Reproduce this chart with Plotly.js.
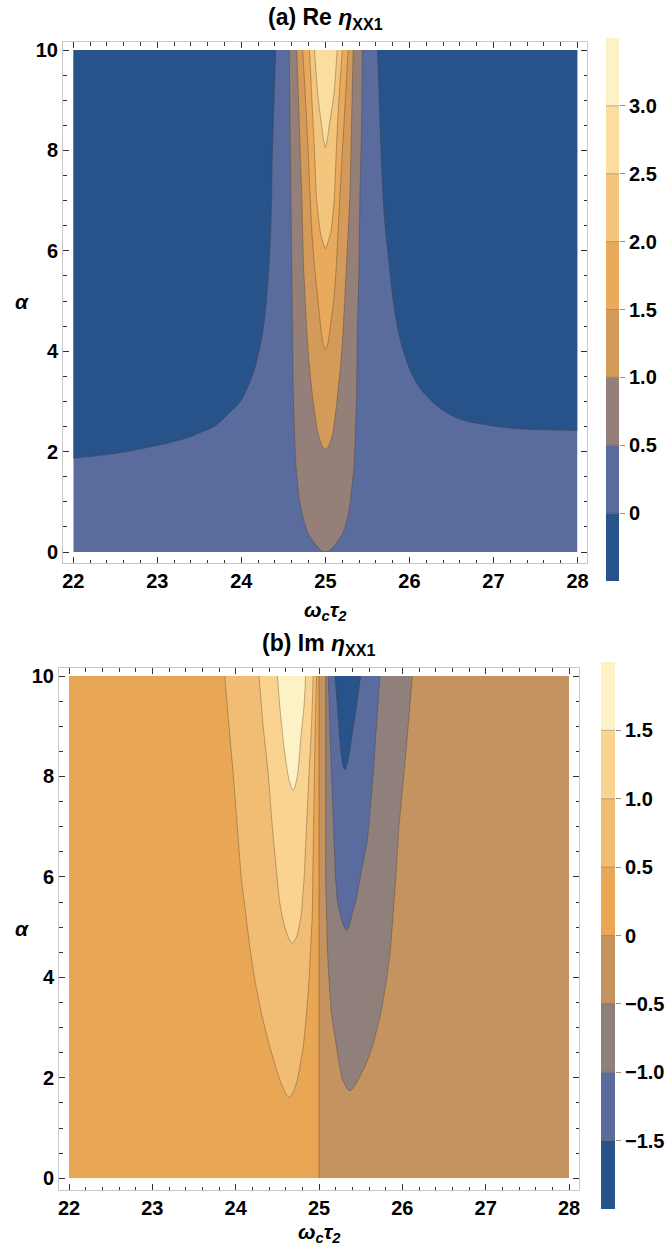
<!DOCTYPE html>
<html>
<head>
<meta charset="utf-8">
<script src="https://cdn.plot.ly/plotly-3.0.1.min.js"></script>
<style>
  html, body { margin: 0; padding: 0; background: #fff; }
  #plot { width: 670px; height: 1245px; }
</style>
</head>
<body>
<div id="plot"></div>
<script>
// ---------- shared domain ----------
const xSpan = [22, 28];
const alphaSpan = [0, 10];

// ---------- (a) Re eta_XX1 : contour boundaries ----------
// level 0: left and right branches (x, alpha)
const reZeroLeftX  = [22.0, 22.5, 22.91, 23.31, 23.5, 23.7, 23.86, 23.98, 24.1, 24.18, 24.26, 24.3, 24.34, 24.36, 24.37, 24.39, 24.41];
const reZeroLeftA  = [1.87, 1.96, 2.09, 2.25, 2.37, 2.53, 2.78, 2.98, 3.38, 3.78, 4.44, 5.04, 6.04, 7.03, 8.03, 9.0, 10.0];
const reZeroRightX = [25.62, 25.64, 25.66, 25.7, 25.76, 25.82, 25.92, 26.08, 26.28, 26.55, 26.95, 27.34, 27.7, 28.0];
const reZeroRightA = [10.0, 9.0, 8.03, 6.7, 5.7, 4.84, 4.04, 3.38, 2.98, 2.68, 2.52, 2.45, 2.43, 2.42];

// U-shaped levels: alpha rows (from the tip up) with left / right x
const reHalfA = [0.0, 0.03, 0.1, 0.2, 0.39, 0.72, 1.06, 1.72, 3.05, 4.38, 5.7, 7.03, 8.5, 10.0];
const reHalfL = [25.0, 24.95, 24.91, 24.86, 24.79, 24.73, 24.69, 24.65, 24.62, 24.61, 24.6, 24.59, 24.58, 24.57];
const reHalfR = [25.0, 25.05, 25.09, 25.14, 25.21, 25.27, 25.3, 25.34, 25.37, 25.38, 25.4, 25.41, 25.43, 25.44];

const reOneA = [2.04, 2.1, 2.2, 2.38, 3.05, 3.71, 4.38, 5.04, 5.7, 7.03, 8.5, 10.0];
const reOneL = [25.0, 24.965, 24.94, 24.91, 24.85, 24.81, 24.78, 24.76, 24.74, 24.72, 24.69, 24.66];
const reOneR = [25.0, 25.035, 25.06, 25.09, 25.14, 25.18, 25.21, 25.23, 25.25, 25.29, 25.31, 25.33];

const reOneHalfA = [4.03, 4.1, 4.2, 4.38, 5.04, 5.7, 6.37, 7.03, 8.5, 10.0];
const reOneHalfL = [25.0, 24.98, 24.965, 24.95, 24.91, 24.87, 24.84, 24.82, 24.78, 24.73];
const reOneHalfR = [25.0, 25.02, 25.035, 25.05, 25.1, 25.13, 25.15, 25.17, 25.22, 25.27];

const reTwoA = [6.04, 6.1, 6.2, 6.37, 7.03, 8.0, 9.0, 10.0];
const reTwoL = [25.0, 24.985, 24.965, 24.94, 24.895, 24.87, 24.84, 24.81];
const reTwoR = [25.0, 25.015, 25.035, 25.065, 25.105, 25.13, 25.16, 25.2];

const reTwoHalfA = [8.06, 8.15, 8.3, 8.43, 9.09, 10.0];
const reTwoHalfL = [25.0, 24.985, 24.97, 24.96, 24.91, 24.87];
const reTwoHalfR = [25.0, 25.015, 25.03, 25.04, 25.1, 25.14];

const reBandEdges  = [-0.5, 0, 0.5, 1.0, 1.5, 2.0, 2.5, 3.0, 3.5];
const reBandColors = ['#27538a', '#5a6b9e', '#948079', '#d39a59', '#e9aa5b', '#f3c57d', '#fbdd9f', '#fdf1c6'];
const reTicks    = [0, 0.5, 1.0, 1.5, 2.0, 2.5, 3.0];
const reTickText = ['0', '0.5', '1.0', '1.5', '2.0', '2.5', '3.0'];

// ---------- (b) Im eta_XX1 : contour boundaries ----------
const imSplitX = 25;          // sign change of Im across the resonance
const imZeroA  = [0, 10];

const imHalfA = [1.61, 1.7, 1.8, 1.96, 2.62, 3.28, 3.95, 4.61, 5.28, 5.94, 7.0, 8.06, 9.0, 10.0];
const imHalfL = [24.64, 24.595, 24.57, 24.53, 24.41, 24.31, 24.23, 24.17, 24.12, 24.07, 24.02, 23.97, 23.92, 23.87];
const imHalfR = [24.64, 24.685, 24.71, 24.74, 24.81, 24.85, 24.88, 24.9, 24.92, 24.925, 24.935, 24.945, 24.955, 24.97];

const imOneA = [4.68, 4.75, 4.85, 5.0, 5.28, 5.54, 5.94, 7.0, 8.06, 9.0, 10.0];
const imOneL = [24.68, 24.645, 24.62, 24.59, 24.55, 24.525, 24.5, 24.44, 24.39, 24.33, 24.28];
const imOneR = [24.68, 24.715, 24.74, 24.76, 24.79, 24.8, 24.82, 24.85, 24.88, 24.91, 24.93];

const imOneHalfA = [7.72, 7.8, 7.9, 8.06, 8.4, 8.73, 9.39, 10.0];
const imOneHalfL = [24.69, 24.665, 24.645, 24.625, 24.595, 24.57, 24.53, 24.5];
const imOneHalfR = [24.69, 24.712, 24.727, 24.745, 24.765, 24.78, 24.82, 24.84];

const imNegHalfA = [1.74, 1.8, 1.9, 1.96, 2.3, 2.62, 3.28, 3.95, 4.61, 5.28, 5.94, 7.0, 8.06, 9.0, 10.0];
const imNegHalfL = [25.37, 25.33, 25.3, 25.28, 25.24, 25.21, 25.15, 25.12, 25.1, 25.09, 25.08, 25.08, 25.08, 25.08, 25.08];
const imNegHalfR = [25.37, 25.41, 25.45, 25.47, 25.57, 25.64, 25.74, 25.81, 25.86, 25.89, 25.92, 25.96, 26.02, 26.07, 26.12];

const imNegOneA = [4.94, 5.0, 5.1, 5.28, 5.54, 5.94, 6.74, 8.06, 9.0, 10.0];
const imNegOneL = [25.33, 25.305, 25.28, 25.25, 25.22, 25.2, 25.18, 25.15, 25.13, 25.11];
const imNegOneR = [25.33, 25.355, 25.375, 25.4, 25.445, 25.49, 25.58, 25.65, 25.69, 25.73];

const imNegOneHalfA = [8.13, 8.2, 8.3, 8.5, 8.73, 9.39, 10.0];
const imNegOneHalfL = [25.31, 25.29, 25.277, 25.262, 25.25, 25.22, 25.19];
const imNegOneHalfR = [25.31, 25.33, 25.347, 25.368, 25.39, 25.45, 25.5];

const imBandEdges  = [-2.0, -1.5, -1.0, -0.5, 0, 0.5, 1.0, 1.5, 2.0];
const imBandColors = ['#27538a', '#5a6b9e', '#8f807c', '#c4935f', '#e9a654', '#f1bd74', '#f9d38f', '#fdf1c6'];
const imTicks    = [-1.5, -1.0, -0.5, 0, 0.5, 1.0, 1.5];
const imTickText = ['\u22121.5', '\u22121.0', '\u22120.5', '0', '0.5', '1.0', '1.5'];

// ---------- helpers ----------
const FONT = '"Liberation Sans Narrow", "Liberation Sans", Arial, sans-serif';
const EDGE = 'rgba(70,55,45,0.45)';
const SMOOTH_U = 0.55;   // closed U-shaped bands
const SMOOTH_OPEN = 1.0; // open level-0 branches
const W = 670, H = 1245;
const domX = (a, b) => [a / W, b / W];
const domY = (top, bottom) => [1 - bottom / H, 1 - top / H];

function uPath(alpha, left, right) {
  return {
    x: left.slice().reverse().concat(right.slice(1)),
    y: alpha.slice().reverse().concat(alpha.slice(1))
  };
}
function rectPath(x0, x1, a0, a1) {
  return { x: [x0, x1, x1, x0], y: [a0, a0, a1, a1] };
}
function region(path, color, xa, ya, outlined) {
  return {
    type: 'scatter', mode: outlined ? 'lines' : 'none',
    x: path.x, y: path.y, fill: 'toself', fillcolor: color,
    line: { color: EDGE, width: 0.8, shape: outlined ? 'spline' : 'linear', smoothing: SMOOTH_U },
    xaxis: xa, yaxis: ya, hoverinfo: 'skip', showlegend: false
  };
}
function curve(x, y, xa, ya, smooth) {
  return {
    type: 'scatter', mode: 'lines', x: x, y: y,
    line: { color: EDGE, width: 0.8, shape: smooth ? 'spline' : 'linear', smoothing: SMOOTH_OPEN },
    xaxis: xa, yaxis: ya, hoverinfo: 'skip', showlegend: false
  };
}
// fills the area between the previous (curved) trace and a straight path along the frame
function cornerFill(x, y, color, xa, ya) {
  return {
    type: 'scatter', mode: 'lines', x: x, y: y, fill: 'tonexty', fillcolor: color,
    line: { width: 0 }, xaxis: xa, yaxis: ya, hoverinfo: 'skip', showlegend: false
  };
}
// empty trace that makes the framed (tick-bearing) subplot exist
function frameHolder(xa, ya) {
  return { type: 'scatter', mode: 'none', x: [], y: [], xaxis: xa, yaxis: ya, hoverinfo: 'skip', showlegend: false };
}
function legendBar(edges, colors, xa, ya) {
  const lows = edges.slice(0, -1);
  const heights = lows.map((v, i) => edges[i + 1] - v);
  return {
    type: 'bar', x: lows.map(() => 0), base: lows, y: heights, width: 1,
    marker: { color: colors, line: { width: 0 } },
    xaxis: xa, yaxis: ya, hoverinfo: 'skip', showlegend: false
  };
}
function legendLines(edges, xa, ya) {
  const x = [], y = [];
  edges.slice(1, -1).forEach(v => { x.push(-0.5, 0.5, null); y.push(v, v, null); });
  return curve(x, y, xa, ya, false);
}

// ---------- traces ----------
const traces = [frameHolder('x', 'y'), frameHolder('x2', 'y2')];
const nL = reZeroLeftX.length - 1, nR = reZeroRightX.length - 1;

// (a) Re  -- drawn on the clipped data axes x5/y5
traces.push(region(rectPath(xSpan[0], xSpan[1], alphaSpan[0], alphaSpan[1]), reBandColors[1], 'x5', 'y5', false));
traces.push(curve(reZeroLeftX, reZeroLeftA, 'x5', 'y5', true));
traces.push(cornerFill([reZeroLeftX[0], xSpan[0], reZeroLeftX[nL]],
                       [reZeroLeftA[0], alphaSpan[1], reZeroLeftA[nL]], reBandColors[0], 'x5', 'y5'));
traces.push(curve(reZeroRightX, reZeroRightA, 'x5', 'y5', true));
traces.push(cornerFill([reZeroRightX[0], xSpan[1], reZeroRightX[nR]],
                       [reZeroRightA[0], alphaSpan[1], reZeroRightA[nR]], reBandColors[0], 'x5', 'y5'));
traces.push(region(uPath(reHalfA, reHalfL, reHalfR), reBandColors[2], 'x5', 'y5', true));
traces.push(region(uPath(reOneA, reOneL, reOneR), reBandColors[3], 'x5', 'y5', true));
traces.push(region(uPath(reOneHalfA, reOneHalfL, reOneHalfR), reBandColors[4], 'x5', 'y5', true));
traces.push(region(uPath(reTwoA, reTwoL, reTwoR), reBandColors[5], 'x5', 'y5', true));
traces.push(region(uPath(reTwoHalfA, reTwoHalfL, reTwoHalfR), reBandColors[6], 'x5', 'y5', true));

// (b) Im  -- drawn on the clipped data axes x6/y6
traces.push(region(rectPath(xSpan[0], imSplitX, alphaSpan[0], alphaSpan[1]), imBandColors[4], 'x6', 'y6', false));
traces.push(region(rectPath(imSplitX, xSpan[1], alphaSpan[0], alphaSpan[1]), imBandColors[3], 'x6', 'y6', false));
traces.push(curve([imSplitX, imSplitX], imZeroA, 'x6', 'y6', false));
traces.push(region(uPath(imHalfA, imHalfL, imHalfR), imBandColors[5], 'x6', 'y6', true));
traces.push(region(uPath(imOneA, imOneL, imOneR), imBandColors[6], 'x6', 'y6', true));
traces.push(region(uPath(imOneHalfA, imOneHalfL, imOneHalfR), imBandColors[7], 'x6', 'y6', true));
traces.push(region(uPath(imNegHalfA, imNegHalfL, imNegHalfR), imBandColors[2], 'x6', 'y6', true));
traces.push(region(uPath(imNegOneA, imNegOneL, imNegOneR), imBandColors[1], 'x6', 'y6', true));
traces.push(region(uPath(imNegOneHalfA, imNegOneHalfL, imNegOneHalfR), imBandColors[0], 'x6', 'y6', true));

// colour legends
traces.push(legendBar(reBandEdges, reBandColors, 'x3', 'y3'));
traces.push(legendLines(reBandEdges, 'x3', 'y3'));
traces.push(legendBar(imBandEdges, imBandColors, 'x4', 'y4'));
traces.push(legendLines(imBandEdges, 'x4', 'y4'));

// ---------- layout ----------
// pixel boxes: frame (with ticks) and the data area inside it
const topFrame = { l: 63, r: 587, t: 42, b: 563 };
const topData  = { l: 73.3, r: 577.5, t: 50, b: 552 };
const botFrame = { l: 59, r: 579, t: 668, b: 1190 };
const botData  = { l: 69, r: 569, t: 676, b: 1178.3 };

function padX(f, d) {
  const ppu = (d.r - d.l) / (xSpan[1] - xSpan[0]);
  return [xSpan[0] - (d.l - f.l) / ppu, xSpan[1] + (f.r - d.r) / ppu];
}
function padY(f, d) {
  const ppu = (d.b - d.t) / (alphaSpan[1] - alphaSpan[0]);
  return [alphaSpan[0] - (f.b - d.b) / ppu, alphaSpan[1] + (d.t - f.t) / ppu];
}

const tickFont = { family: FONT, size: 20, color: '#000', weight: 'bold' };
function frameAxis(extra) {
  return Object.assign({
    showgrid: false, zeroline: false, showline: true, linecolor: '#c8c8c8', linewidth: 1,
    mirror: 'allticks', ticks: 'inside', ticklen: 6, tickwidth: 1, tickcolor: '#333',
    tickfont: tickFont, fixedrange: true
  }, extra);
}
const xFrame = (f, d, anchor) => frameAxis({
  domain: domX(f.l, f.r), anchor: anchor, range: padX(f, d),
  tick0: 22, dtick: 1, minor: { dtick: 0.2, ticks: 'inside', ticklen: 3.5, tickcolor: '#333' }
});
const yFrame = (f, d, anchor) => frameAxis({
  domain: domY(f.t, f.b), anchor: anchor, range: padY(f, d),
  tick0: 0, dtick: 2, minor: { dtick: 0.5, ticks: 'inside', ticklen: 3.5, tickcolor: '#333' }
});
const dataAxis = (dom, anchor, range) => ({ domain: dom, anchor: anchor, range: range, visible: false, fixedrange: true });
function legendAxis(edges, vals, text, extra) {
  return Object.assign({
    range: [edges[0], edges[edges.length - 1]], side: 'right',
    tickmode: 'array', tickvals: vals, ticktext: text,
    ticks: 'outside', ticklen: 5, tickwidth: 1, tickcolor: '#a08c70',
    tickfont: tickFont, showgrid: false, zeroline: false, showline: false, fixedrange: true
  }, extra);
}

const annFont = (size, style) => ({ family: FONT, size: size, color: '#000', weight: 'bold', style: style || 'normal' });
const midX = (f) => (f.l + f.r) / 2 / W;
const atY = (p) => 1 - p / H;
const note = (text, x, y, font) => ({
  text: text, xref: 'paper', yref: 'paper', x: x, y: y, showarrow: false,
  xanchor: 'center', yanchor: 'middle', font: font
});

const layout = {
  width: W, height: H,
  margin: { l: 0, r: 0, t: 0, b: 0 },
  paper_bgcolor: '#fff', plot_bgcolor: '#fff',
  showlegend: false,
  font: { family: FONT, color: '#000' },
  xaxis: xFrame(topFrame, topData, 'y'),
  yaxis: yFrame(topFrame, topData, 'x'),
  xaxis2: xFrame(botFrame, botData, 'y2'),
  yaxis2: yFrame(botFrame, botData, 'x2'),
  xaxis5: dataAxis(domX(topData.l, topData.r), 'y5', xSpan),
  yaxis5: dataAxis(domY(topData.t, topData.b), 'x5', alphaSpan),
  xaxis6: dataAxis(domX(botData.l, botData.r), 'y6', xSpan),
  yaxis6: dataAxis(domY(botData.t, botData.b), 'x6', alphaSpan),
  xaxis3: dataAxis(domX(606, 619), 'y3', [-0.5, 0.5]),
  yaxis3: legendAxis(reBandEdges, reTicks, reTickText, { domain: domY(38, 581), anchor: 'x3' }),
  xaxis4: dataAxis(domX(601, 615), 'y4', [-0.5, 0.5]),
  yaxis4: legendAxis(imBandEdges, imTicks, imTickText, { domain: domY(662, 1209), anchor: 'x4' }),
  annotations: [
    note('(a) Re <i>η</i><sub>XX1</sub>', midX(topFrame), atY(19), annFont(23)),
    note('(b) Im <i>η</i><sub>XX1</sub>', midX(botFrame), atY(644), annFont(23)),
    note('ω<sub>c</sub>τ<sub>2</sub>', midX(topFrame), atY(611), annFont(21, 'italic')),
    note('ω<sub>c</sub>τ<sub>2</sub>', midX(botFrame), atY(1233), annFont(21, 'italic')),
    note('α', 22 / W, atY(301), annFont(21, 'italic')),
    note('α', 22 / W, atY(928), annFont(21, 'italic'))
  ]
};

Plotly.newPlot('plot', traces, layout, { displayModeBar: false, staticPlot: true });
</script>
</body>
</html>
